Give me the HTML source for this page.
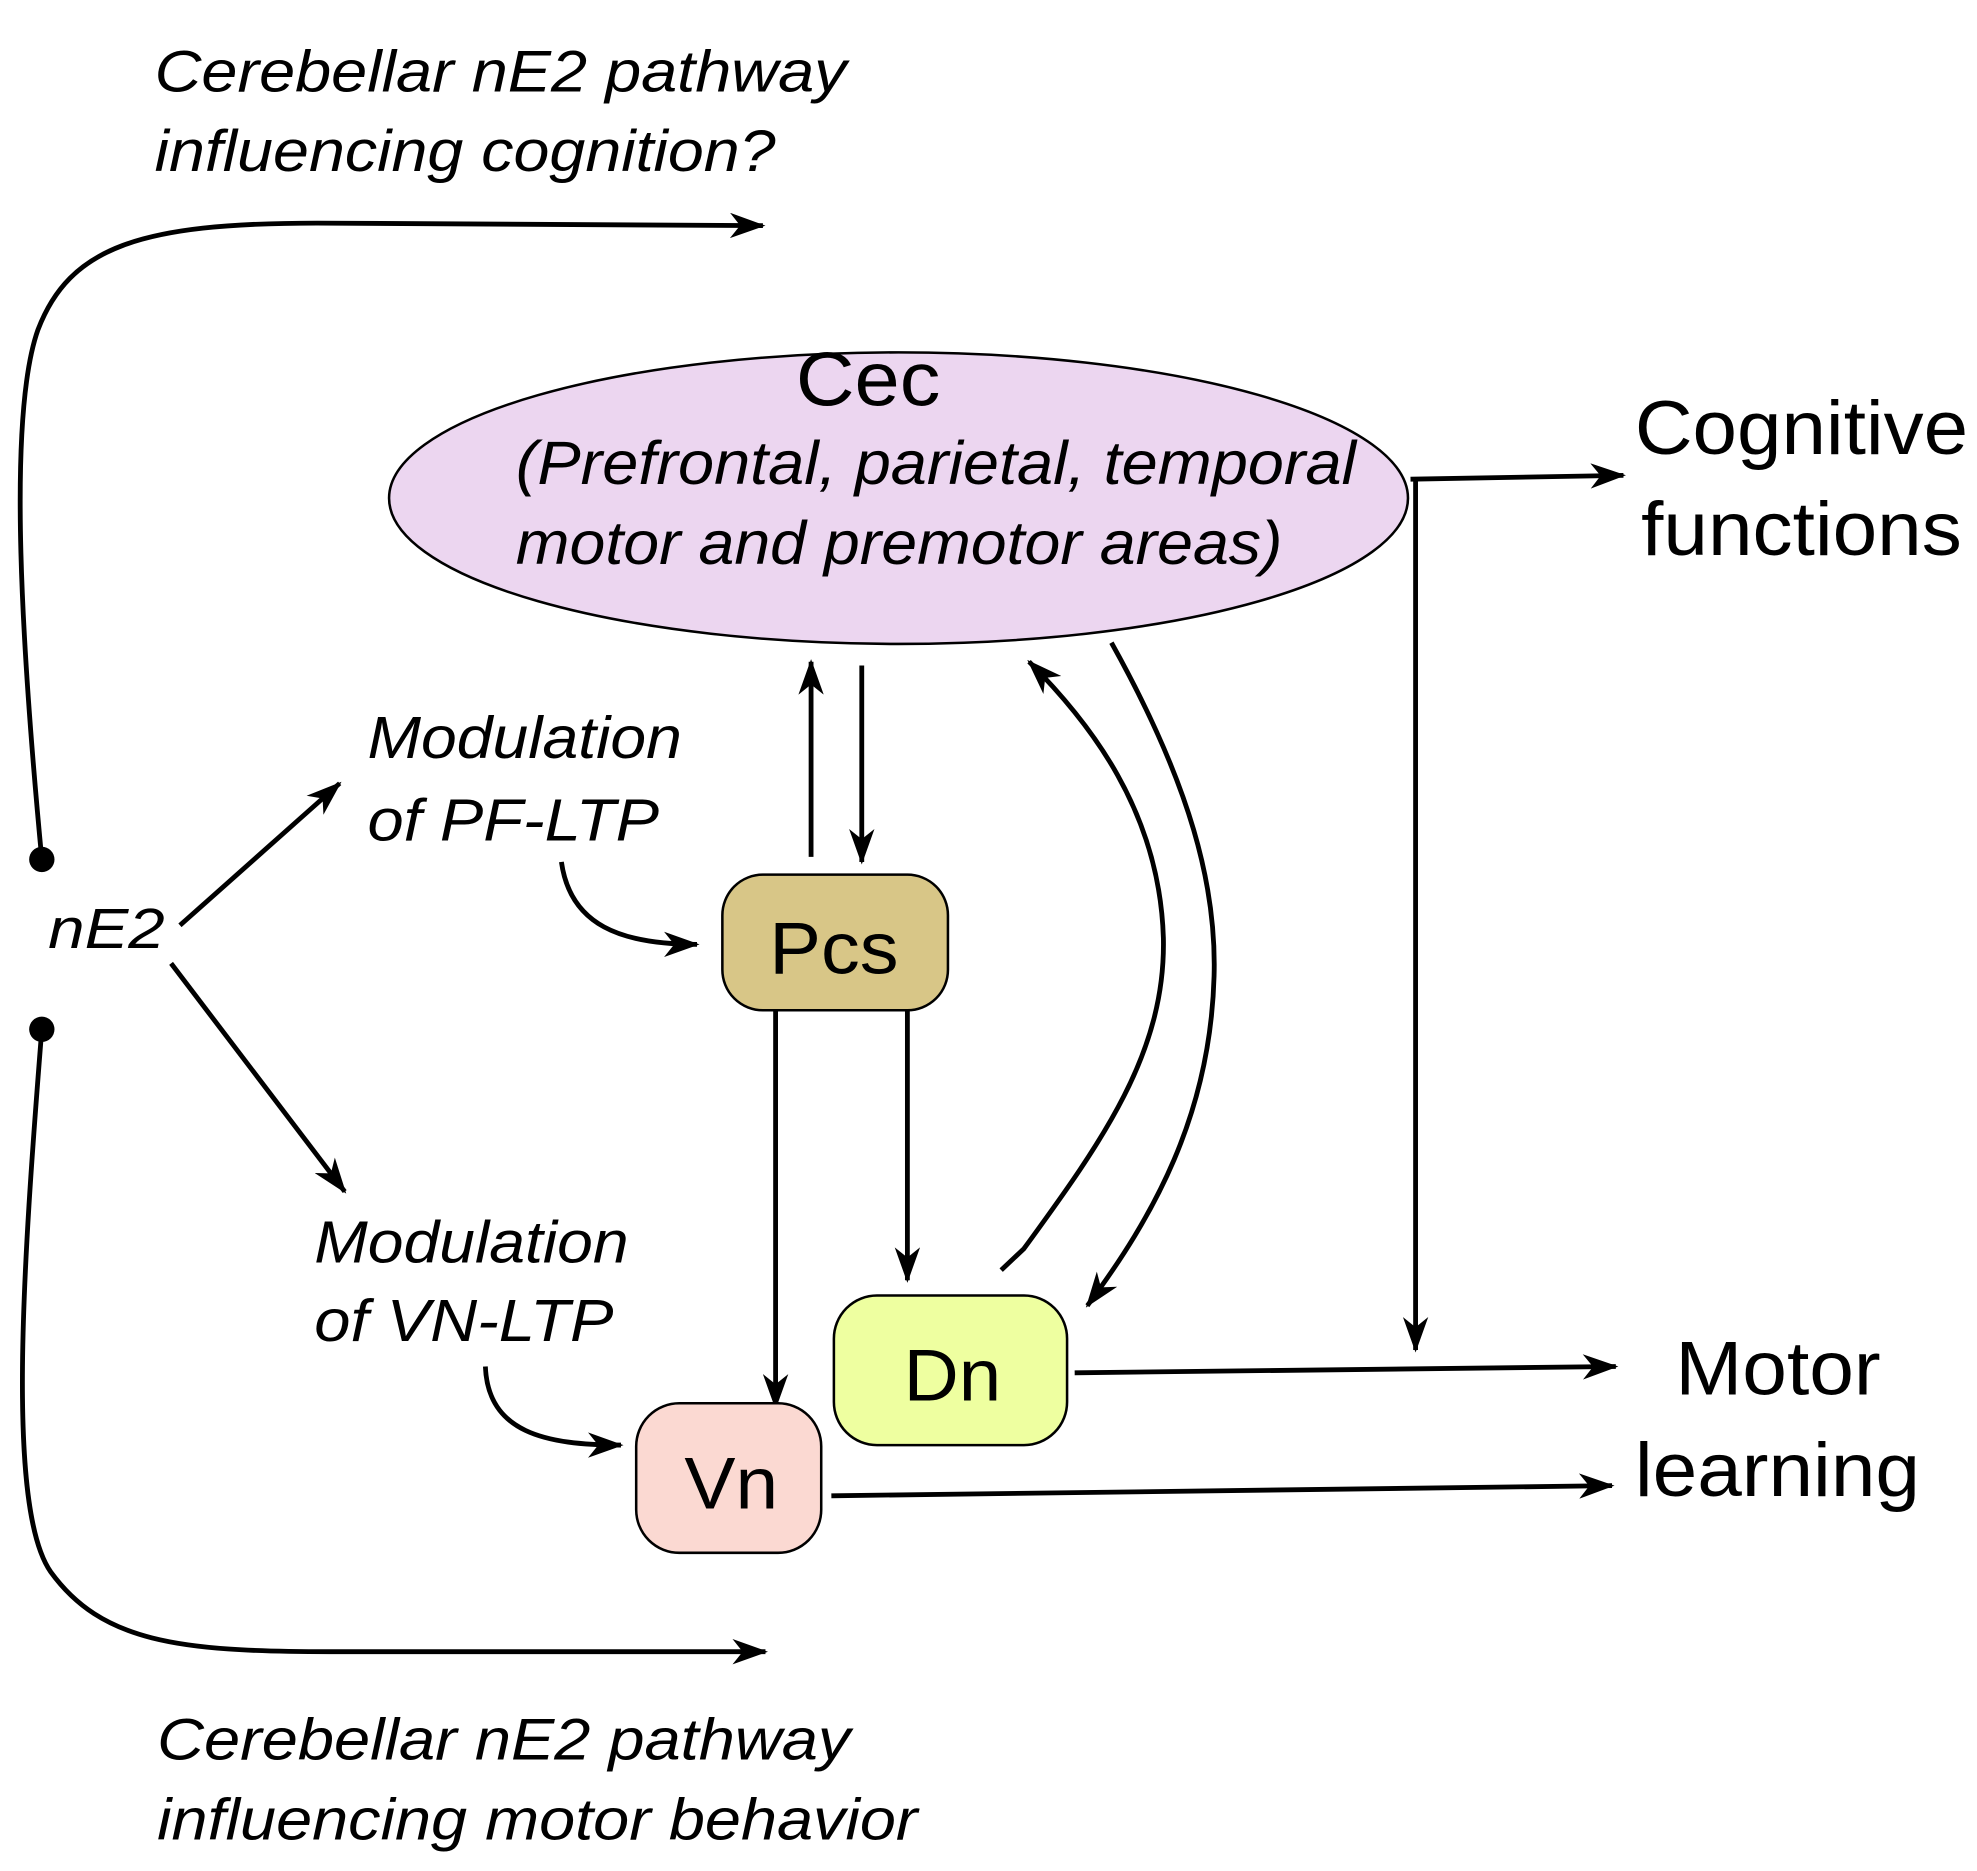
<!DOCTYPE html>
<html><head><meta charset="utf-8"><style>
html,body{margin:0;padding:0;background:#fff;}
svg{display:block;}
text{font-family:"Liberation Sans",Arial,sans-serif;fill:#000;}
.it{font-style:italic;}
</style></head><body>
<svg width="1977" height="1871" viewBox="0 0 1560 1476" preserveAspectRatio="none" xmlns="http://www.w3.org/2000/svg">
<defs>
<marker id="b" viewBox="0 0 14 10" refX="13" refY="5" markerWidth="30" markerHeight="20" markerUnits="userSpaceOnUse" orient="auto">
<path d="M0,0 L14,5 L0,10 L4,5z" fill="#000"/>
</marker>
</defs>
<g fill="none" stroke="#000" stroke-width="3.8">
<path d="M33,678 C18,520 5,330 30,260 C55,195 110,176 250,176 L602,178" marker-end="url(#b)"/>
<path d="M33,812 C18,1000 5,1190 40,1240 C80,1295 140,1303 260,1303 L604,1303" marker-end="url(#b)"/>
<path d="M1113,378 L1281,375" marker-end="url(#b)"/>
<path d="M1117,378 L1117,1065" marker-end="url(#b)"/>
<path d="M640,676 L640,522" marker-end="url(#b)"/>
<path d="M680,525 L680,680" marker-end="url(#b)"/>
<path d="M790,1002 L808,985 C870,900 920,830 918,740 C915,640 860,570 812,522" marker-end="url(#b)"/>
<path d="M877,507 C940,620 960,700 958,770 C955,880 910,960 858,1030" marker-end="url(#b)"/>
<path d="M612,797 L612,1110" marker-end="url(#b)"/>
<path d="M716,797 L716,1010" marker-end="url(#b)"/>
<path d="M848,1083 L1275,1078" marker-end="url(#b)"/>
<path d="M656,1180 L1272,1172" marker-end="url(#b)"/>
<path d="M142,730 L268,618" marker-end="url(#b)"/>
<path d="M135,760 L272,940" marker-end="url(#b)"/>
<path d="M443,680 C450,730 490,745 550,745" marker-end="url(#b)"/>
<path d="M383,1078 C385,1130 430,1140 490,1140" marker-end="url(#b)"/>
</g>
<circle cx="33" cy="678" r="10" fill="#000"/>
<circle cx="33" cy="812" r="10" fill="#000"/>
<ellipse cx="709" cy="393" rx="402" ry="115" fill="#ecd6f0" stroke="#000" stroke-width="2"/>
<rect x="570" y="690" width="178" height="107" rx="32" fill="#d8c687" stroke="#000" stroke-width="2"/>
<rect x="658" y="1022" width="184" height="118" rx="34" fill="#eeffa0" stroke="#000" stroke-width="2"/>
<rect x="502" y="1107" width="146" height="118" rx="34" fill="#fbd9d2" stroke="#000" stroke-width="2"/>
<text x="628" y="320" font-size="60" textLength="114" lengthAdjust="spacingAndGlyphs">Cec</text>
<text x="407" y="382" font-size="48" class="it" textLength="663" lengthAdjust="spacingAndGlyphs">(Prefrontal, parietal, temporal</text>
<text x="407" y="445" font-size="48" class="it" textLength="605" lengthAdjust="spacingAndGlyphs">motor and premotor areas)</text>
<text x="607" y="768" font-size="58" textLength="102" lengthAdjust="spacingAndGlyphs">Pcs</text>
<text x="713" y="1105" font-size="58" textLength="77" lengthAdjust="spacingAndGlyphs">Dn</text>
<text x="540" y="1190" font-size="58" textLength="74" lengthAdjust="spacingAndGlyphs">Vn</text>
<text x="1290" y="358" font-size="60" textLength="263" lengthAdjust="spacingAndGlyphs">Cognitive</text>
<text x="1295" y="438" font-size="60" textLength="253" lengthAdjust="spacingAndGlyphs">functions</text>
<text x="1322" y="1100" font-size="60" textLength="162" lengthAdjust="spacingAndGlyphs">Motor</text>
<text x="1290" y="1180" font-size="60" textLength="225" lengthAdjust="spacingAndGlyphs">learning</text>
<text x="38" y="748" font-size="45" class="it" textLength="92" lengthAdjust="spacingAndGlyphs">nE2</text>
<text x="290" y="598" font-size="47" class="it" textLength="248" lengthAdjust="spacingAndGlyphs">Modulation</text>
<text x="290" y="663" font-size="47" class="it" textLength="230" lengthAdjust="spacingAndGlyphs">of PF-LTP</text>
<text x="248" y="996" font-size="47" class="it" textLength="248" lengthAdjust="spacingAndGlyphs">Modulation</text>
<text x="248" y="1058" font-size="47" class="it" textLength="236" lengthAdjust="spacingAndGlyphs">of VN-LTP</text>
<text x="122" y="72" font-size="46" class="it" textLength="546" lengthAdjust="spacingAndGlyphs">Cerebellar nE2 pathway</text>
<text x="122" y="135" font-size="46" class="it" textLength="490" lengthAdjust="spacingAndGlyphs">influencing cognition?</text>
<text x="124" y="1388" font-size="46" class="it" textLength="547" lengthAdjust="spacingAndGlyphs">Cerebellar nE2 pathway</text>
<text x="124" y="1451" font-size="46" class="it" textLength="600" lengthAdjust="spacingAndGlyphs">influencing motor behavior</text>
</svg>
</body></html>
